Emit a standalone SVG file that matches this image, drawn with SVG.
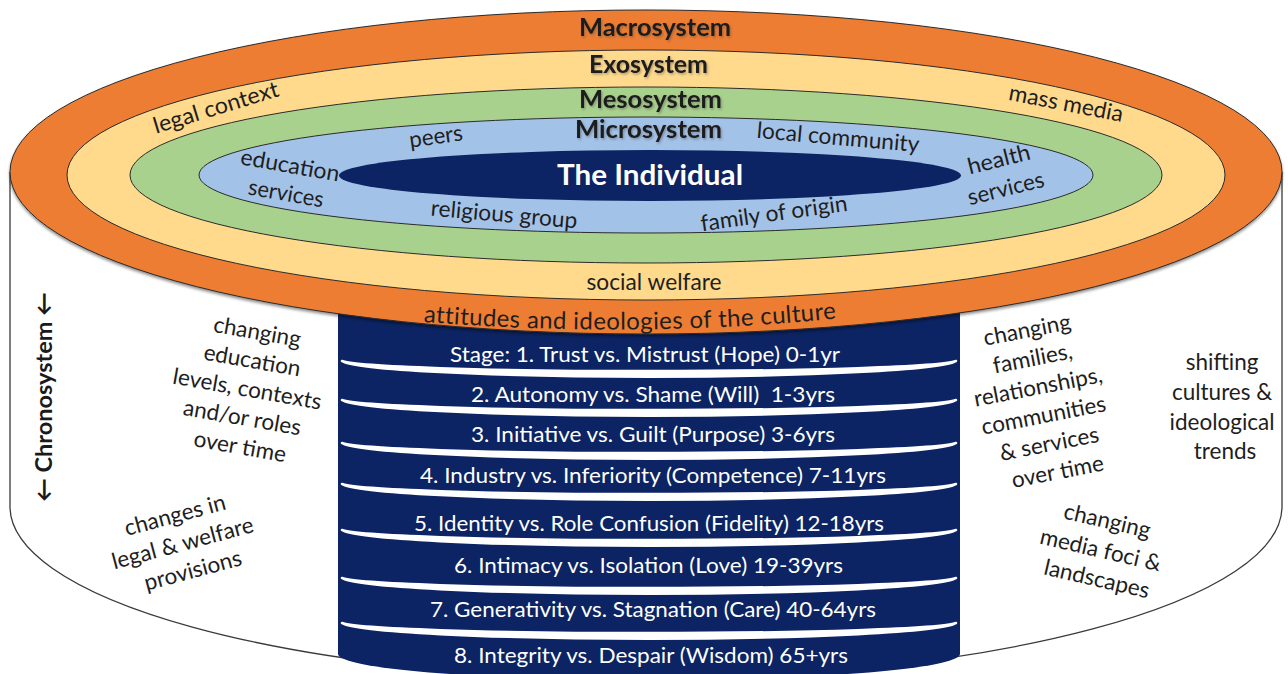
<svg xmlns="http://www.w3.org/2000/svg" width="1288" height="674" viewBox="0 0 1288 674">
  <defs>
    <filter id="ringShadow" x="-3%" y="-5%" width="106%" height="115%">
      <feDropShadow dx="0" dy="2" stdDeviation="1.6" flood-color="#000" flood-opacity="0.45"/>
    </filter>
    <filter id="labelShadow" x="-10%" y="-30%" width="120%" height="160%">
      <feDropShadow dx="1.2" dy="1.5" stdDeviation="1" flood-color="#444" flood-opacity="0.45"/>
    </filter>
    <path id="cultureArc" d="M400,320 Q640,341 860,316"/>
  </defs>
  <style>
    .ring{stroke:#2b2b2b;stroke-width:1}
    .sys{font-family:Lato,'Liberation Sans',sans-serif;font-weight:bold;font-size:24px;fill:#1a1a1a;text-anchor:middle;filter:url(#labelShadow)}
    .lbl{font-family:Lato,'Liberation Sans',sans-serif;font-size:22.5px;fill:#1e1e1e;text-anchor:middle}
    .stage{font-family:Lato,'Liberation Sans',sans-serif;font-size:22px;fill:#fff}
    .band{fill:#fff;stroke:#fff;stroke-width:2.5;stroke-linejoin:round}
    .chrono{font-family:Lato,'DejaVu Sans',sans-serif;font-weight:bold;font-size:23.5px;fill:#1a1a1a;text-anchor:middle}
  </style>

  <!-- cylinder body (chronosystem wall) -->
  <g id="cylinder">
    <path d="M10,172 V505 A636,172 0 0 0 1282,508 V172" fill="#fff" stroke="#3a3a3a" stroke-width="1.3"/>
  </g>

  <!-- stack of Erikson stages -->
  <g id="stages">
    <path d="M338,300 H960 V654 A311,26 0 0 1 338,654 Z" fill="#0c2463"/>
    <g id="stage-bands">
      <path class="band" d="M342,361 A308,11 0 0 0 956,361 A308,17 0 0 1 342,361 Z"/>
      <path class="band" d="M342,400 A308,11 0 0 0 956,400 A308,17 0 0 1 342,400 Z"/>
      <path class="band" d="M342,443 A308,11 0 0 0 956,443 A308,17 0 0 1 342,443 Z"/>
      <path class="band" d="M342,484 A308,11 0 0 0 956,484 A308,17 0 0 1 342,484 Z"/>
      <path class="band" d="M342,530 A308,11 0 0 0 956,530 A308,17 0 0 1 342,530 Z"/>
      <path class="band" d="M342,578 A308,11 0 0 0 956,578 A308,17 0 0 1 342,578 Z"/>
      <path class="band" d="M342,623 A308,11 0 0 0 956,623 A308,17 0 0 1 342,623 Z"/>
    </g>
    <g id="stage-labels">
      <text class="stage" x="450" y="362" textLength="390" lengthAdjust="spacingAndGlyphs">Stage: 1. Trust vs. Mistrust (Hope) 0-1yr</text>
      <text class="stage" x="471" y="402" textLength="364" lengthAdjust="spacingAndGlyphs" style="white-space:pre">2. Autonomy vs. Shame (Will)  1-3yrs</text>
      <text class="stage" x="471" y="442" textLength="364" lengthAdjust="spacingAndGlyphs">3. Initiative vs. Guilt (Purpose) 3-6yrs</text>
      <text class="stage" x="420" y="483" textLength="466" lengthAdjust="spacingAndGlyphs">4. Industry vs. Inferiority (Competence) 7-11yrs</text>
      <text class="stage" x="414" y="531" textLength="470" lengthAdjust="spacingAndGlyphs">5. Identity vs. Role Confusion (Fidelity) 12-18yrs</text>
      <text class="stage" x="454" y="573" textLength="389" lengthAdjust="spacingAndGlyphs">6. Intimacy vs. Isolation (Love) 19-39yrs</text>
      <text class="stage" x="430" y="617" textLength="446" lengthAdjust="spacingAndGlyphs">7. Generativity vs. Stagnation (Care) 40-64yrs</text>
      <text class="stage" x="454" y="663" textLength="394" lengthAdjust="spacingAndGlyphs">8. Integrity vs. Despair (Wisdom) 65+yrs</text>
    </g>
  </g>

  <!-- nested system rings -->
  <g id="macrosystem">
    <ellipse class="ring" cx="646" cy="172" rx="636" ry="162" fill="#ED7D31" filter="url(#ringShadow)"/>
  </g>
  <g id="exosystem">
    <ellipse class="ring" cx="646" cy="175" rx="579" ry="125" fill="#FFD98C"/>
  </g>
  <g id="mesosystem">
    <ellipse class="ring" cx="646" cy="175" rx="516" ry="88" fill="#A9D18E"/>
  </g>
  <g id="microsystem">
    <ellipse class="ring" cx="646" cy="175" rx="447" ry="58" fill="#A3C2E8"/>
  </g>
  <g id="individual">
    <ellipse cx="650" cy="175.5" rx="311" ry="25.5" fill="#0c2463"/>
    <text x="650" y="185" font-family="Lato,'Liberation Sans',sans-serif" font-weight="bold" font-size="28" fill="#fff" text-anchor="middle" textLength="186" lengthAdjust="spacingAndGlyphs">The Individual</text>
  </g>

  <!-- system titles -->
  <g id="system-titles">
    <text class="sys" x="655" y="36" textLength="152" lengthAdjust="spacingAndGlyphs">Macrosystem</text>
    <text class="sys" x="648.5" y="73" textLength="119" lengthAdjust="spacingAndGlyphs">Exosystem</text>
    <text class="sys" x="650.5" y="108" textLength="143" lengthAdjust="spacingAndGlyphs">Mesosystem</text>
    <text class="sys" x="648.5" y="138" textLength="147" lengthAdjust="spacingAndGlyphs">Microsystem</text>
  </g>

  <!-- ring contents -->
  <g id="ring-labels">
    <text class="lbl" transform="translate(216,108) rotate(-17)" y="7" textLength="130" lengthAdjust="spacingAndGlyphs">legal context</text>
    <text class="lbl" transform="translate(1066,104) rotate(11)" y="7" textLength="116" lengthAdjust="spacingAndGlyphs">mass media</text>
    <text class="lbl" transform="translate(436,137) rotate(-8)" y="7" textLength="54" lengthAdjust="spacingAndGlyphs">peers</text>
    <text class="lbl" transform="translate(838,138) rotate(5)" y="7" textLength="163" lengthAdjust="spacingAndGlyphs">local community</text>
    <text class="lbl" transform="translate(290,166) rotate(10)" y="7" textLength="100" lengthAdjust="spacingAndGlyphs">education</text>
    <text class="lbl" transform="translate(286,194) rotate(10)" y="7" textLength="76" lengthAdjust="spacingAndGlyphs">services</text>
    <text class="lbl" transform="translate(999,160) rotate(-14)" y="7" textLength="64" lengthAdjust="spacingAndGlyphs">health</text>
    <text class="lbl" transform="translate(1006,189) rotate(-14)" y="7" textLength="78" lengthAdjust="spacingAndGlyphs">services</text>
    <text class="lbl" transform="translate(504,215) rotate(5)" y="7" textLength="147" lengthAdjust="spacingAndGlyphs">religious group</text>
    <text class="lbl" transform="translate(774,214) rotate(-8)" y="7" textLength="148" lengthAdjust="spacingAndGlyphs">family of origin</text>
    <text class="lbl" x="654" y="290" textLength="135" lengthAdjust="spacingAndGlyphs">social welfare</text>
    <text class="lbl" style="font-size:24px;letter-spacing:0.4px"><textPath href="#cultureArc" startOffset="50%">attitudes and ideologies of the culture</textPath></text>
  </g>

  <!-- chronosystem side notes -->
  <g id="chronosystem">
    <text class="chrono" transform="translate(52,397) rotate(-90)">← Chronosystem ←</text>
    <text class="lbl" transform="translate(260,333) rotate(10)">
      <tspan x="0" y="7">changing</tspan>
      <tspan x="0" y="36">education</tspan>
      <tspan x="0" y="65">levels, contexts</tspan>
      <tspan x="0" y="94">and/or roles</tspan>
      <tspan x="0" y="123">over time</tspan>
    </text>
    <text class="lbl" transform="translate(178,515) rotate(-15)">
      <tspan x="0" y="7">changes in</tspan>
      <tspan x="0" y="36">legal &amp; welfare</tspan>
      <tspan x="0" y="65">provisions</tspan>
    </text>
    <text class="lbl" transform="translate(1030,330) rotate(-11)">
      <tspan x="0" y="7">changing</tspan>
      <tspan x="0" y="36">families,</tspan>
      <tspan x="0" y="65">relationships,</tspan>
      <tspan x="0" y="94">communities</tspan>
      <tspan x="0" y="123">&amp; services</tspan>
      <tspan x="0" y="152">over time</tspan>
    </text>
    <text class="lbl">
      <tspan x="1225" y="370">shifting</tspan>
      <tspan x="1225" y="400">cultures &amp;</tspan>
      <tspan x="1225" y="430">ideological</tspan>
      <tspan x="1225" y="459">trends</tspan>
    </text>
    <text class="lbl" transform="translate(1110,522) rotate(13)">
      <tspan x="0" y="7">changing</tspan>
      <tspan x="0" y="37">media foci &amp;</tspan>
      <tspan x="0" y="66">landscapes</tspan>
    </text>
  </g>
</svg>
